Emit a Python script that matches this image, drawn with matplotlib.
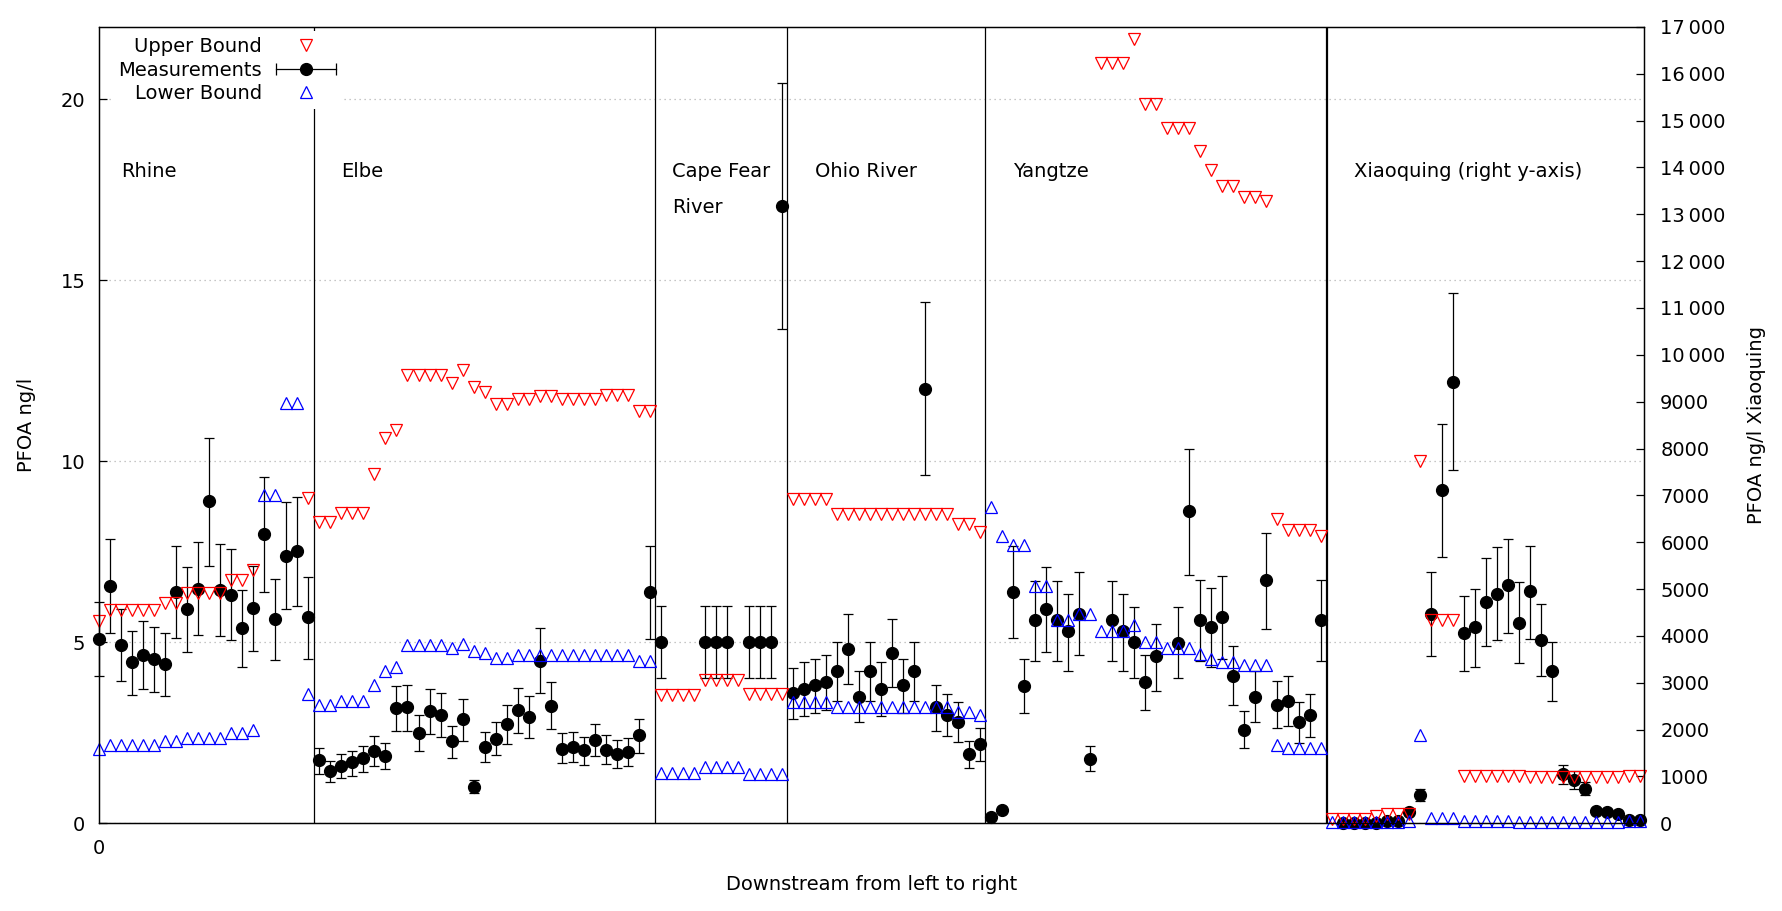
import numpy as np
import matplotlib
matplotlib.use("Agg")
import matplotlib.pyplot as plt
from matplotlib.lines import Line2D
from matplotlib.legend_handler import HandlerLine2D, HandlerTuple
from matplotlib.ticker import FuncFormatter

nan = np.nan

# ---- data (left axis, ng/l) ----
rhine_meas  = [5.08, 6.56, 4.93, 4.45, 4.64, 4.53, 4.39, 6.39, 5.91, 6.48, 8.89, 6.44, 6.32, 5.39, 5.94, 7.98, 5.64, 7.38, 7.52, 5.69]
rhine_low   = [4.07, 5.25, 3.93, 3.55, 3.70, 3.62, 3.52, 5.11, 4.72, 5.19, 7.10, 5.17, 5.06, 4.32, 4.76, 6.39, 4.51, 5.91, 6.00, 4.53]
rhine_high  = [6.12, 7.86, 5.91, 5.32, 5.58, 5.43, 5.25, 7.67, 7.09, 7.78, 10.64, 7.72, 7.58, 6.45, 7.11, 9.57, 6.76, 8.87, 9.00, 6.81]
rhine_upper = [5.58, 5.89, 5.89, 5.89, 5.89, 5.89, 6.09, 6.09, 6.37, 6.37, 6.37, 6.37, 6.72, 6.72, 6.99, nan, nan, nan, nan, 8.99]
rhine_lower = [2.05, 2.17, 2.17, 2.17, 2.17, 2.17, 2.26, 2.26, 2.37, 2.37, 2.37, 2.37, 2.49, 2.49, 2.59, 9.06, 9.06, 11.61, 11.61, 3.58]

elbe_meas  = [1.74, 1.45, 1.59, 1.68, 1.80, 2.01, 1.85, 3.18, 3.20, 2.50, 3.11, 3.00, 2.26, 2.87, 1.01, 2.12,
              2.32, 2.73, 3.12, 2.93, 4.48, 3.23, 2.06, 2.12, 2.02, 2.29, 2.02, 1.91, 1.96, 2.43, 6.38]
elbe_low   = [1.37, 1.15, 1.26, 1.32, 1.43, 1.59, 1.49, 2.54, 2.54, 2.01, 2.48, 2.39, 1.80, 2.28, 0.84, 1.69,
              1.88, 2.18, 2.49, 2.35, 3.59, 2.60, 1.66, 1.69, 1.60, 1.85, 1.63, 1.52, 1.57, 1.93, 5.10]
elbe_high  = [2.09, 1.72, 1.92, 2.01, 2.14, 2.41, 2.22, 3.80, 3.83, 2.99, 3.71, 3.61, 2.70, 3.43, 1.19, 2.52,
              2.81, 3.28, 3.73, 3.53, 5.39, 3.89, 2.50, 2.53, 2.39, 2.75, 2.43, 2.29, 2.35, 2.89, 7.65]
elbe_upper = [8.32, 8.32, 8.57, 8.57, 8.57, 9.65, 10.65, 10.87, 12.38, 12.38, 12.38, 12.38, 12.16, 12.53, 12.05, 11.92,
              11.58, 11.58, 11.72, 11.72, 11.80, 11.80, 11.72, 11.72, 11.73, 11.73, 11.82, 11.82, 11.82, 11.39, 11.39]
elbe_lower = [3.28, 3.28, 3.39, 3.39, 3.39, 3.81, 4.22, 4.31, 4.92, 4.92, 4.92, 4.92, 4.83, 4.96, 4.75, 4.71,
              4.58, 4.58, 4.64, 4.64, 4.64, 4.66, 4.64, 4.64, 4.64, 4.64, 4.66, 4.66, 4.66, 4.49, 4.49]

capefear_meas  = [5.00, nan, nan, nan, 5.00, 5.00, 5.00, nan, 5.00, 5.00, 5.00, 17.06]
capefear_low   = [4.01, nan, nan, nan, 4.01, 4.01, 4.01, nan, 4.01, 4.01, 4.01, 13.65]
capefear_high  = [5.99, nan, nan, nan, 5.99, 5.99, 5.99, nan, 5.99, 5.99, 5.99, 20.45]
capefear_upper = [3.55, 3.55, 3.55, 3.55, 3.95, 3.95, 3.95, 3.95, 3.58, 3.58, 3.58, 3.58]
capefear_lower = [1.40, 1.40, 1.40, 1.40, 1.56, 1.56, 1.56, 1.56, 1.36, 1.36, 1.36, 1.36]

ohio_meas  = [3.59, 3.70, 3.82, 3.90, 4.21, 4.81, 3.50, 4.21, 3.70, 4.70, 3.81, 4.21, 12.00, 3.20, 2.98, 2.80, 1.92, 2.19]
ohio_low   = [2.87, 2.96, 3.04, 3.13, 3.37, 3.84, 2.79, 3.37, 2.96, 3.76, 3.06, 3.37, 9.61, 2.54, 2.40, 2.24, 1.52, 1.73]
ohio_high  = [4.30, 4.45, 4.55, 4.66, 5.02, 5.77, 4.20, 5.02, 4.45, 5.63, 4.55, 5.02, 14.39, 3.83, 3.58, 3.36, 2.26, 2.62]
ohio_upper = [8.97, 8.97, 8.97, 8.97, 8.54, 8.54, 8.54, 8.54, 8.54, 8.54, 8.54, 8.54, 8.54, 8.54, 8.54, 8.27, 8.27, 8.05]
ohio_lower = [3.35, 3.35, 3.35, 3.35, 3.20, 3.20, 3.20, 3.20, 3.20, 3.20, 3.20, 3.20, 3.20, 3.20, 3.20, 3.07, 3.07, 3.00]

yangtze_meas  = [0.18, 0.37, 6.40, 3.80, 5.61, 5.91, 5.62, 5.31, 5.79, 1.79, nan, 5.61, 5.30, 5.00, 3.90, 4.62,
                 nan, 4.99, 8.62, 5.61, 5.41, 5.69, 4.08, 2.59, 3.50, 6.71, 3.28, 3.38, 2.79, 2.98, 5.61]
yangtze_low   = [0.14, 0.30, 5.11, 3.04, 4.48, 4.72, 4.48, 4.21, 4.64, 1.44, nan, 4.48, 4.21, 4.01, 3.12, 3.66,
                 nan, 4.01, 6.87, 4.48, 4.32, 4.53, 3.28, 2.07, 2.79, 5.36, 2.62, 2.70, 2.22, 2.39, 4.48]
yangtze_high  = [0.22, 0.44, 7.66, 4.55, 6.70, 7.08, 6.70, 6.34, 6.95, 2.14, nan, 6.70, 6.34, 5.98, 4.66, 5.50,
                 nan, 5.98, 10.34, 6.71, 6.49, 6.84, 4.90, 3.11, 4.21, 8.03, 3.94, 4.08, 3.36, 3.57, 6.71]
yangtze_upper = [nan, nan, nan, nan, nan, nan, nan, nan, nan, nan, 21.01, 21.01, 21.01, 21.67, 19.88, 19.88,
                 19.22, 19.22, 19.22, 18.58, 18.06, 17.61, 17.61, 17.31, 17.31, 17.20, 8.40, 8.10, 8.10, 8.10, 7.93]
yangtze_lower = [8.74, 7.95, 7.69, 7.69, 6.55, 6.55, 5.62, 5.62, 5.78, 5.78, 5.32, 5.32, 5.32, 5.48, 5.01, 5.01,
                 4.84, 4.84, 4.84, 4.68, 4.54, 4.45, 4.45, 4.36, 4.36, 4.36, 2.16, 2.07, 2.07, 2.07, 2.07]

# Xiaoquing is on the right axis (ng/l)
xiaoquing_meas  = [nan, 10, 15, 15, 15, 50, 40, 237, 607, 4472, 7121, 9424, 4054, 4180, 4732, 4905, 5079, 4282,
                   4953, 3904, 3249, 1049, 915, 741, 260, 237, 197, 79, 79]
xiaoquing_low   = [nan, 8, 12, 12, 12, 40, 32, 190, 485, 3580, 5694, 7547, 3249, 3328, 3778, 3920, 4054, 3431,
                   3943, 3139, 2602, 844, 741, 607, 208, 190, 158, 63, 63]
xiaoquing_high  = [nan, 12, 18, 18, 18, 60, 48, 285, 730, 5363, 8533, 11317, 4858, 5008, 5670, 5907, 6073, 5150,
                   5915, 4685, 3880, 1254, 1120, 883, 312, 285, 236, 95, 95]
xiaoquing_upper = [100, 100, 100, 100, 150, 200, 200, 200, 7744, 4338, 4338, 4338, 1000, 1000, 1000, 1000, 1000, 1000,
                   980, 980, 980, 980, 980, 980, 980, 980, 980, 1000, 1000]
xiaoquing_lower = [30, 20, 20, 20, 20, 20, 20, 40, 1893, 118, 118, 118, 55, 55, 55, 55, 55, 30,
                   30, 30, 30, 30, 30, 30, 30, 30, 30, 40, 40]

river_labels = ["Rhine", "Elbe", "Cape Fear", "Ohio River", "Yangtze", "Xiaoquing (right y-axis)"]

# ---- styling ----
plt.rcParams["font.family"] = ["DejaVu Sans"]
plt.rcParams["font.size"] = 14

RED, BLUE, BLACK = "#ff0000", "#0000ff", "#000000"
TRI_MS, DOT_MS, LW = 8, 8.5, 0.9

left_groups = [
    (rhine_meas, rhine_low, rhine_high, rhine_upper, rhine_lower),
    (elbe_meas, elbe_low, elbe_high, elbe_upper, elbe_lower),
    (capefear_meas, capefear_low, capefear_high, capefear_upper, capefear_lower),
    (ohio_meas, ohio_low, ohio_high, ohio_upper, ohio_lower),
    (yangtze_meas, yangtze_low, yangtze_high, yangtze_upper, yangtze_lower),
]
meas, low, high, upper, lower = [np.concatenate([np.array(g[k], float) for g in left_groups]) for k in range(5)]
x_left = np.arange(len(meas))
x_right = np.arange(len(meas), len(meas) + len(xiaoquing_meas))

sizes = [len(g[0]) for g in left_groups] + [len(xiaoquing_meas)]
starts = np.concatenate([[0], np.cumsum(sizes)])
boundaries = starts[1:-1] - 0.5


def draw_series(ax, x, m, lo, hi, up, dn):
    m, lo, hi = np.asarray(m, float), np.asarray(lo, float), np.asarray(hi, float)
    eb = ax.errorbar(x, m, yerr=[m - lo, hi - m], fmt="o", color=BLACK, ms=DOT_MS,
                     elinewidth=LW, capsize=3.6, capthick=LW, zorder=2)
    for art in eb.get_children():
        art.set_clip_on(False)
    ax.plot(x, up, ls="none", marker="v", mfc="none", mec=RED, ms=TRI_MS, mew=LW, zorder=3, clip_on=False)
    ax.plot(x, dn, ls="none", marker="^", mfc="none", mec=BLUE, ms=TRI_MS, mew=LW, zorder=3, clip_on=False)


fig = plt.figure(figsize=(17.82, 9.11), dpi=100)
ax = fig.add_axes([0.05572, 0.09627, 0.86694, 0.87420])
ax2 = ax.twinx()

draw_series(ax, x_left, meas, low, high, upper, lower)
draw_series(ax2, x_right, xiaoquing_meas, xiaoquing_low, xiaoquing_high, xiaoquing_upper, xiaoquing_lower)

for k, b in enumerate(boundaries):
    ax.axvline(b, color=BLACK, lw=1.6 if k == len(boundaries) - 1 else LW, zorder=1)

# river names
label_pos = [2, 22, 52, 65, 83, 114]
for name, xp in zip(river_labels, label_pos):
    ax.text(xp, 18, name, ha="left", va="center")
ax.text(52, 17, "River", ha="left", va="center")

ax.set_xlim(0, starts[-1] - 1 + 0.35)
ax.set_ylim(0, 22)
ax2.set_ylim(0, 17000)

ax.set_xticks([0])
ax.tick_params(axis="x", length=0, pad=11)
ax.set_yticks([0, 5, 10, 15, 20])
ax.tick_params(axis="y", direction="in", length=6, width=LW, pad=10)
ax2.set_yticks(np.arange(0, 17001, 1000))
ax2.tick_params(axis="y", direction="in", length=6, width=LW, pad=11.5)
ax2.yaxis.set_major_formatter(FuncFormatter(
    lambda v, p: f"{v:,.0f}".replace(",", "\u2009") if v >= 10000 else f"{v:.0f}"))

ax.yaxis.grid(True, linestyle=(0, (1, 3)), color="#b4b4b4", lw=0.9)
ax.set_axisbelow(True)
for a in (ax, ax2):
    for s in a.spines.values():
        s.set_linewidth(LW)
for s in ax2.spines.values():
    s.set_zorder(11)   # keep the frame above the legend box

ax.set_ylabel("PFOA ng/l")
ax.yaxis.set_label_coords(-0.0409, 0.5)
ax2.set_ylabel("PFOA ng/l Xiaoquing")
ax2.yaxis.set_label_coords(1.0664, 0.5)
ax.set_xlabel("Downstream from left to right")
ax.xaxis.set_label_coords(0.5, -0.0643)

# legend: text right-justified, sample on the right (gnuplot key style)
h_up = Line2D([], [], ls="none", marker="v", mfc="none", mec=RED, ms=TRI_MS, mew=LW)
h_bar = Line2D([], [], color=BLACK, lw=LW, marker="|", ms=8, mew=LW)
h_dot = Line2D([], [], ls="none", marker="o", color=BLACK, ms=DOT_MS)
h_low = Line2D([], [], ls="none", marker="^", mfc="none", mec=BLUE, ms=TRI_MS, mew=LW)
leg = ax2.legend([h_up, (h_bar, h_dot), h_low], ["Upper Bound", "Measurements", "Lower Bound"],
                 handler_map={h_bar: HandlerLine2D(numpoints=2, marker_pad=0), tuple: HandlerTuple(ndivide=1)},
                 markerfirst=False, loc="upper right", bbox_to_anchor=(0.1634, 1.0068),
                 handlelength=3.07, handletextpad=0.74, labelspacing=0.23, borderpad=0.3,
                 frameon=True, fancybox=False, edgecolor="none", facecolor="white", framealpha=1)
leg.set_zorder(10)

fig.savefig("out.png", dpi=100)
